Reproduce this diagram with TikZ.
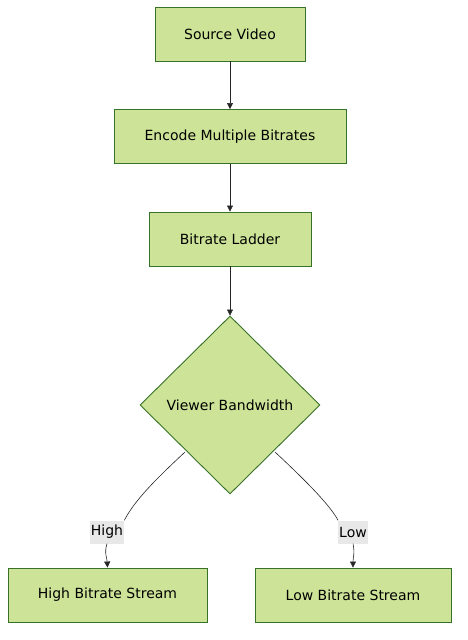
\documentclass[tikz,border=0pt]{standalone}
\usepackage{fontspec}
\setmainfont{DejaVu Sans}
\usetikzlibrary{shapes.geometric,arrows.meta}
\definecolor{boxfill}{HTML}{CDE498}
\definecolor{boxline}{HTML}{13540C}
\definecolor{lblbg}{HTML}{E8E8E8}
\begin{document}
\begin{tikzpicture}[x=1pt,y=-1pt,
  stepbox/.style={draw=boxline!80!boxfill,fill=boxfill,line width=0.9pt,minimum height=54pt,font=\fontsize{14}{16}\selectfont,inner sep=0pt},
  decide/.style={draw=boxline!80!boxfill,fill=boxfill,line width=0.9pt,diamond,minimum width=180pt,minimum height=178pt,font=\fontsize{14}{16}\selectfont,inner sep=0pt},
  lbl/.style={fill=lblbg,font=\fontsize{14}{16}\selectfont,inner xsep=1pt,inner ysep=0pt,minimum height=23pt},
  conn/.style={draw=black!85,line width=0.6pt,-{Triangle[length=6pt,width=6pt]}},
  plain/.style={draw=black!85,line width=0.6pt}]
\useasboundingbox (0,0) rectangle (467,640);
\node[stepbox,minimum width=150pt] (src) at (230,34) {Source Video};
\node[stepbox,minimum width=232pt] (enc) at (230,136.5) {Encode Multiple Bitrates};
\node[stepbox,minimum width=162pt] (lad) at (230,239) {Bitrate Ladder};
\node[decide] (bw) at (230,405) {Viewer Bandwidth};
\node[stepbox,minimum width=199pt] (hi) at (107.5,595) {High Bitrate Stream};
\node[stepbox,minimum width=196pt] (lo) at (353,595) {Low Bitrate Stream};
\node[lbl] (lhi) at (107,532) {High};
\node[lbl] (llo) at (353,532) {Low};
\draw[conn] (src) -- (enc);
\draw[conn] (enc) -- (lad);
\draw[conn] (lad) -- (bw);
\coordinate (hs) at (185,452);
\coordinate (ls) at (275,452);
\draw[plain] (hs) .. controls (155,480) and (135,500) .. (lhi.north east);
\draw[conn] (lhi.south) .. controls (104,553) and (107,558) .. (hi.north);
\draw[plain] (ls) .. controls (305,480) and (330,505) .. (llo.north west);
\draw[conn] (llo.south) .. controls (355,553) and (353,558) .. (lo.north);
\end{tikzpicture}
\end{document}
